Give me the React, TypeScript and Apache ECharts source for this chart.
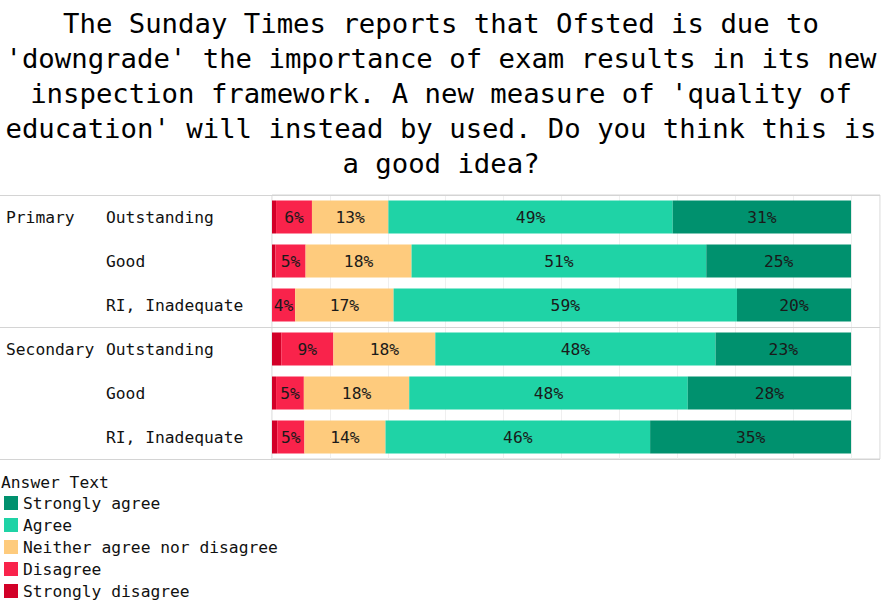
import React, { useEffect, useRef } from "react";
import * as echarts from "echarts";

const titleLines = [
  "The Sunday Times reports that Ofsted is due to",
  "'downgrade' the importance of exam results in its new",
  "inspection framework. A new measure of 'quality of",
  "education' will instead by used. Do you think this is",
  "a good idea?",
];
const legendTitle = "Answer Text";
const groups = ["Primary", "Secondary"];
const ratings = ["Outstanding", "Good", "RI, Inadequate"];
const answers = ["Strongly disagree", "Disagree", "Neither agree nor disagree", "Agree", "Strongly agree"];
const legendOrder = ["Strongly agree", "Agree", "Neither agree nor disagree", "Disagree", "Strongly disagree"];
const colors = ["#d20028", "#f9234b", "#fecb7d", "#1fd3a6", "#00916e"];

// rows: Primary (Outstanding, Good, RI) then Secondary (Outstanding, Good, RI)
const stronglyDisagree = [0.7, 0.6, 0, 1.6, 0.7, 0.9];
const disagree = [6.2, 5.2, 4.0, 9.0, 4.8, 4.7];
const neither = [13.2, 18.3, 17.0, 17.6, 18.2, 14.0];
const agree = [49.1, 50.9, 59.3, 48.4, 48.1, 45.7];
const stronglyAgree = [30.8, 25.0, 19.7, 23.4, 28.2, 34.7];

const FONT = "'DejaVu Sans Mono', 'Liberation Mono', monospace";
const FS = 16.3;
const GRID_LEFT = 272;
const GRID_TOP = 195;
const GRID_W = 608;
const GRID_H = 264;
const LINE_COLOR = "#d4d4d4";

export default function App() {
  const ref = useRef<HTMLDivElement>(null);
  useEffect(() => {
    if (!ref.current) return;
    const chart = echarts.init(ref.current, undefined, { renderer: "svg" });
    const keys: string[] = [];
    groups.forEach((g) => ratings.forEach((r) => keys.push(g + "|" + r)));
    const seriesData = [stronglyDisagree, disagree, neither, agree, stronglyAgree];
    const rowH = GRID_H / keys.length;
    const sepYs = [GRID_TOP, GRID_TOP + rowH * ratings.length, GRID_TOP + GRID_H];

    chart.setOption({
      animation: false,
      textStyle: { fontFamily: FONT },
      title: [
        {
          text: legendTitle,
          left: 1,
          top: 474,
          padding: 0,
          textStyle: { fontFamily: FONT, fontSize: FS, fontWeight: "normal", color: "#111" },
        },
      ],
      legend: {
        orient: "vertical",
        left: 4,
        top: 495,
        height: 110,
        padding: 0,
        itemWidth: 14,
        itemHeight: 14,
        itemGap: 6,
        icon: "rect",
        data: legendOrder,
        textStyle: { fontFamily: FONT, fontSize: FS, color: "#111" },
        selectedMode: false,
      },
      grid: {
        left: GRID_LEFT,
        top: GRID_TOP,
        width: GRID_W,
        height: GRID_H,
        show: true,
        borderColor: LINE_COLOR,
        borderWidth: 1,
        backgroundColor: "transparent",
      },
      xAxis: {
        type: "value",
        min: 0,
        max: 105,
        interval: 10,
        axisLabel: { show: false },
        axisLine: { show: false },
        axisTick: { show: false },
        splitLine: { show: true, lineStyle: { color: "#efefef", width: 1 } },
      },
      yAxis: [
        {
          type: "category",
          inverse: true,
          data: keys,
          axisLine: { show: false },
          axisTick: { show: false },
          splitLine: { show: false },
          axisLabel: {
            margin: GRID_LEFT - 106,
            align: "left",
            fontFamily: FONT,
            fontSize: FS,
            color: "#111",
            formatter: (v: string) => v.split("|")[1],
          },
        },
        {
          type: "category",
          inverse: true,
          position: "left",
          data: keys,
          axisLine: { show: false },
          axisTick: { show: false },
          splitLine: { show: false },
          axisLabel: {
            margin: GRID_LEFT - 6,
            align: "left",
            fontFamily: FONT,
            fontSize: FS,
            color: "#111",
            interval: 0,
            formatter: (v: string) => {
              const [g, r] = v.split("|");
              return r === ratings[0] ? g : "";
            },
          },
        },
      ],
      series: answers.map((name, i) => ({
        name,
        type: "bar",
        stack: "total",
        yAxisIndex: 0,
        barWidth: 33,
        data: seriesData[i],
        itemStyle: { color: colors[i] },
        label: {
          show: i > 0,
          position: "inside",
          fontFamily: FONT,
          fontSize: FS,
          color: "#1a1a1a",
          formatter: (p: any) => Math.round(p.value) + "%",
        },
      })),
      graphic: [
        {
          type: "text",
          x: 441,
          y: 6,
          silent: true,
          style: {
            text: titleLines.join("\n"),
            fontFamily: FONT,
            fontSize: 27.3,
            lineHeight: 35,
            fill: "#000",
            align: "center",
            textAlign: "center",
            verticalAlign: "top",
          },
        },
        ...sepYs.map((y) => ({
          type: "line",
          silent: true,
          z: 10,
          shape: { x1: 0, y1: Math.round(y) + 0.5, x2: GRID_LEFT + GRID_W, y2: Math.round(y) + 0.5 },
          style: { stroke: LINE_COLOR, lineWidth: 1 },
        })),
      ],
    });
    return () => chart.dispose();
  }, []);
  return (
    <div
      ref={ref}
      style={{ position: "fixed", left: 0, top: 0, width: 882, height: 603, background: "#fff" }}
    />
  );
}
